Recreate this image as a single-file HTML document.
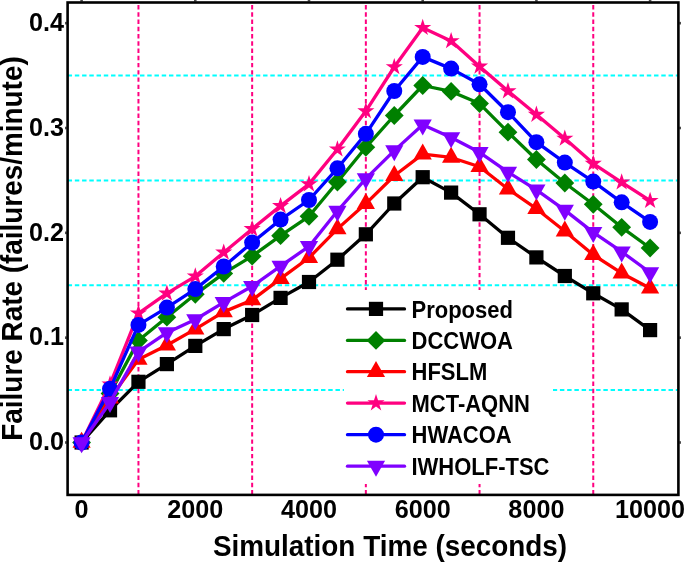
<!DOCTYPE html><html><head><meta charset="utf-8"><style>html,body{margin:0;padding:0;background:#fff;width:685px;height:563px;overflow:hidden}svg{display:block;will-change:transform}text{font-family:"Liberation Sans",sans-serif;font-weight:bold;fill:#000}</style></head><body>
<svg width="685" height="563" viewBox="0 0 685 563">
<rect width="685" height="563" fill="#fff"/>
<line x1="67.6" y1="390.08" x2="678.4" y2="390.08" stroke="#00ffff" stroke-width="2" stroke-dasharray="4.45 2.79"/>
<line x1="67.6" y1="285.25" x2="678.4" y2="285.25" stroke="#00ffff" stroke-width="2" stroke-dasharray="4.45 2.79"/>
<line x1="67.6" y1="180.43" x2="678.4" y2="180.43" stroke="#00ffff" stroke-width="2" stroke-dasharray="4.45 2.79"/>
<line x1="67.6" y1="75.60" x2="678.4" y2="75.60" stroke="#00ffff" stroke-width="2" stroke-dasharray="4.45 2.79"/>
<line x1="138.45" y1="2.5" x2="138.45" y2="494.9" stroke="#ff0080" stroke-width="2" stroke-dasharray="4.45 2.79" stroke-dashoffset="4.74"/>
<line x1="252.15" y1="2.5" x2="252.15" y2="494.9" stroke="#ff0080" stroke-width="2" stroke-dasharray="4.45 2.79" stroke-dashoffset="4.74"/>
<line x1="365.85" y1="2.5" x2="365.85" y2="494.9" stroke="#ff0080" stroke-width="2" stroke-dasharray="4.45 2.79" stroke-dashoffset="4.74"/>
<line x1="479.55" y1="2.5" x2="479.55" y2="494.9" stroke="#ff0080" stroke-width="2" stroke-dasharray="4.45 2.79" stroke-dashoffset="4.74"/>
<line x1="593.25" y1="2.5" x2="593.25" y2="494.9" stroke="#ff0080" stroke-width="2" stroke-dasharray="4.45 2.79" stroke-dashoffset="4.74"/>
<polyline points="81.60,442.50 110.02,410.30 138.45,381.80 166.88,364.10 195.30,345.90 223.72,329.10 252.15,315.00 280.57,297.90 309.00,282.00 337.42,259.70 365.85,234.30 394.27,203.50 422.70,177.20 451.12,192.60 479.55,214.30 507.98,237.80 536.40,257.40 564.82,276.00 593.25,293.30 621.67,309.40 650.10,330.10" fill="none" stroke="#000000" stroke-width="3.3" stroke-linejoin="round" stroke-linecap="round"/>
<rect x="74.50" y="435.40" width="14.2" height="14.2" fill="#000000"/>
<rect x="102.92" y="403.20" width="14.2" height="14.2" fill="#000000"/>
<rect x="131.35" y="374.70" width="14.2" height="14.2" fill="#000000"/>
<rect x="159.78" y="357.00" width="14.2" height="14.2" fill="#000000"/>
<rect x="188.20" y="338.80" width="14.2" height="14.2" fill="#000000"/>
<rect x="216.62" y="322.00" width="14.2" height="14.2" fill="#000000"/>
<rect x="245.05" y="307.90" width="14.2" height="14.2" fill="#000000"/>
<rect x="273.47" y="290.80" width="14.2" height="14.2" fill="#000000"/>
<rect x="301.90" y="274.90" width="14.2" height="14.2" fill="#000000"/>
<rect x="330.32" y="252.60" width="14.2" height="14.2" fill="#000000"/>
<rect x="358.75" y="227.20" width="14.2" height="14.2" fill="#000000"/>
<rect x="387.17" y="196.40" width="14.2" height="14.2" fill="#000000"/>
<rect x="415.60" y="170.10" width="14.2" height="14.2" fill="#000000"/>
<rect x="444.02" y="185.50" width="14.2" height="14.2" fill="#000000"/>
<rect x="472.45" y="207.20" width="14.2" height="14.2" fill="#000000"/>
<rect x="500.88" y="230.70" width="14.2" height="14.2" fill="#000000"/>
<rect x="529.30" y="250.30" width="14.2" height="14.2" fill="#000000"/>
<rect x="557.72" y="268.90" width="14.2" height="14.2" fill="#000000"/>
<rect x="586.15" y="286.20" width="14.2" height="14.2" fill="#000000"/>
<rect x="614.57" y="302.30" width="14.2" height="14.2" fill="#000000"/>
<rect x="643.00" y="323.00" width="14.2" height="14.2" fill="#000000"/>
<polyline points="81.60,442.50 110.02,393.50 138.45,340.60 166.88,317.20 195.30,294.30 223.72,273.40 252.15,256.20 280.57,235.70 309.00,216.30 337.42,182.00 365.85,147.30 394.27,115.50 422.70,85.50 451.12,91.40 479.55,103.60 507.98,132.20 536.40,159.50 564.82,183.00 593.25,204.30 621.67,227.30 650.10,248.00" fill="none" stroke="#008000" stroke-width="3.3" stroke-linejoin="round" stroke-linecap="round"/>
<path d="M81.60 433.10L91.00 442.50L81.60 451.90L72.20 442.50Z" fill="#008000"/>
<path d="M110.02 384.10L119.42 393.50L110.02 402.90L100.62 393.50Z" fill="#008000"/>
<path d="M138.45 331.20L147.85 340.60L138.45 350.00L129.05 340.60Z" fill="#008000"/>
<path d="M166.88 307.80L176.28 317.20L166.88 326.60L157.47 317.20Z" fill="#008000"/>
<path d="M195.30 284.90L204.70 294.30L195.30 303.70L185.90 294.30Z" fill="#008000"/>
<path d="M223.72 264.00L233.12 273.40L223.72 282.80L214.32 273.40Z" fill="#008000"/>
<path d="M252.15 246.80L261.55 256.20L252.15 265.60L242.75 256.20Z" fill="#008000"/>
<path d="M280.57 226.30L289.97 235.70L280.57 245.10L271.18 235.70Z" fill="#008000"/>
<path d="M309.00 206.90L318.40 216.30L309.00 225.70L299.60 216.30Z" fill="#008000"/>
<path d="M337.42 172.60L346.82 182.00L337.42 191.40L328.02 182.00Z" fill="#008000"/>
<path d="M365.85 137.90L375.25 147.30L365.85 156.70L356.45 147.30Z" fill="#008000"/>
<path d="M394.27 106.10L403.67 115.50L394.27 124.90L384.88 115.50Z" fill="#008000"/>
<path d="M422.70 76.10L432.10 85.50L422.70 94.90L413.30 85.50Z" fill="#008000"/>
<path d="M451.12 82.00L460.52 91.40L451.12 100.80L441.73 91.40Z" fill="#008000"/>
<path d="M479.55 94.20L488.95 103.60L479.55 113.00L470.15 103.60Z" fill="#008000"/>
<path d="M507.98 122.80L517.38 132.20L507.98 141.60L498.58 132.20Z" fill="#008000"/>
<path d="M536.40 150.10L545.80 159.50L536.40 168.90L527.00 159.50Z" fill="#008000"/>
<path d="M564.82 173.60L574.22 183.00L564.82 192.40L555.42 183.00Z" fill="#008000"/>
<path d="M593.25 194.90L602.65 204.30L593.25 213.70L583.85 204.30Z" fill="#008000"/>
<path d="M621.67 217.90L631.07 227.30L621.67 236.70L612.27 227.30Z" fill="#008000"/>
<path d="M650.10 238.60L659.50 248.00L650.10 257.40L640.70 248.00Z" fill="#008000"/>
<polyline points="81.60,442.47 110.02,398.17 138.45,359.47 166.88,345.27 195.30,329.17 223.72,311.87 252.15,299.97 280.57,278.67 309.00,257.77 337.42,228.87 365.85,203.57 394.27,175.77 422.70,154.07 451.12,157.47 479.55,166.77 507.98,189.07 536.40,208.67 564.82,231.27 593.25,254.77 621.67,273.17 650.10,288.17" fill="none" stroke="#ff0000" stroke-width="3.3" stroke-linejoin="round" stroke-linecap="round"/>
<path d="M81.60 431.80L90.70 447.80L72.50 447.80Z" fill="#ff0000"/>
<path d="M110.02 387.50L119.12 403.50L100.92 403.50Z" fill="#ff0000"/>
<path d="M138.45 348.80L147.55 364.80L129.35 364.80Z" fill="#ff0000"/>
<path d="M166.88 334.60L175.97 350.60L157.78 350.60Z" fill="#ff0000"/>
<path d="M195.30 318.50L204.40 334.50L186.20 334.50Z" fill="#ff0000"/>
<path d="M223.72 301.20L232.82 317.20L214.62 317.20Z" fill="#ff0000"/>
<path d="M252.15 289.30L261.25 305.30L243.05 305.30Z" fill="#ff0000"/>
<path d="M280.57 268.00L289.68 284.00L271.47 284.00Z" fill="#ff0000"/>
<path d="M309.00 247.10L318.10 263.10L299.90 263.10Z" fill="#ff0000"/>
<path d="M337.42 218.20L346.52 234.20L328.32 234.20Z" fill="#ff0000"/>
<path d="M365.85 192.90L374.95 208.90L356.75 208.90Z" fill="#ff0000"/>
<path d="M394.27 165.10L403.38 181.10L385.17 181.10Z" fill="#ff0000"/>
<path d="M422.70 143.40L431.80 159.40L413.60 159.40Z" fill="#ff0000"/>
<path d="M451.12 146.80L460.23 162.80L442.02 162.80Z" fill="#ff0000"/>
<path d="M479.55 156.10L488.65 172.10L470.45 172.10Z" fill="#ff0000"/>
<path d="M507.98 178.40L517.08 194.40L498.88 194.40Z" fill="#ff0000"/>
<path d="M536.40 198.00L545.50 214.00L527.30 214.00Z" fill="#ff0000"/>
<path d="M564.82 220.60L573.92 236.60L555.72 236.60Z" fill="#ff0000"/>
<path d="M593.25 244.10L602.35 260.10L584.15 260.10Z" fill="#ff0000"/>
<path d="M621.67 262.50L630.77 278.50L612.57 278.50Z" fill="#ff0000"/>
<path d="M650.10 277.50L659.20 293.50L641.00 293.50Z" fill="#ff0000"/>
<polyline points="81.60,442.50 110.02,384.30 138.45,313.30 166.88,293.40 195.30,276.30 223.72,252.40 252.15,228.90 280.57,205.90 309.00,184.10 337.42,149.20 365.85,111.10 394.27,67.00 422.70,27.70 451.12,41.00 479.55,66.40 507.98,91.10 536.40,114.60 564.82,138.50 593.25,163.60 621.67,182.30 650.10,200.70" fill="none" stroke="#ff0080" stroke-width="3.3" stroke-linejoin="round" stroke-linecap="round"/>
<path d="M81.60 433.50L83.62 439.72L90.16 439.72L84.87 443.56L86.89 449.78L81.60 445.94L76.31 449.78L78.33 443.56L73.04 439.72L79.58 439.72Z" fill="#ff0080"/>
<path d="M110.02 375.30L112.05 381.52L118.58 381.52L113.29 385.36L115.32 391.58L110.02 387.74L104.73 391.58L106.76 385.36L101.47 381.52L108.00 381.52Z" fill="#ff0080"/>
<path d="M138.45 304.30L140.47 310.52L147.01 310.52L141.72 314.36L143.74 320.58L138.45 316.74L133.16 320.58L135.18 314.36L129.89 310.52L136.43 310.52Z" fill="#ff0080"/>
<path d="M166.88 284.40L168.90 290.62L175.43 290.62L170.14 294.46L172.17 300.68L166.88 296.84L161.58 300.68L163.61 294.46L158.32 290.62L164.85 290.62Z" fill="#ff0080"/>
<path d="M195.30 267.30L197.32 273.52L203.86 273.52L198.57 277.36L200.59 283.58L195.30 279.74L190.01 283.58L192.03 277.36L186.74 273.52L193.28 273.52Z" fill="#ff0080"/>
<path d="M223.72 243.40L225.75 249.62L232.28 249.62L226.99 253.46L229.02 259.68L223.72 255.84L218.43 259.68L220.46 253.46L215.17 249.62L221.70 249.62Z" fill="#ff0080"/>
<path d="M252.15 219.90L254.17 226.12L260.71 226.12L255.42 229.96L257.44 236.18L252.15 232.34L246.86 236.18L248.88 229.96L243.59 226.12L250.13 226.12Z" fill="#ff0080"/>
<path d="M280.57 196.90L282.60 203.12L289.13 203.12L283.84 206.96L285.87 213.18L280.57 209.34L275.28 213.18L277.31 206.96L272.02 203.12L278.55 203.12Z" fill="#ff0080"/>
<path d="M309.00 175.10L311.02 181.32L317.56 181.32L312.27 185.16L314.29 191.38L309.00 187.54L303.71 191.38L305.73 185.16L300.44 181.32L306.98 181.32Z" fill="#ff0080"/>
<path d="M337.42 140.20L339.45 146.42L345.98 146.42L340.69 150.26L342.72 156.48L337.42 152.64L332.13 156.48L334.16 150.26L328.87 146.42L335.40 146.42Z" fill="#ff0080"/>
<path d="M365.85 102.10L367.87 108.32L374.41 108.32L369.12 112.16L371.14 118.38L365.85 114.54L360.56 118.38L362.58 112.16L357.29 108.32L363.83 108.32Z" fill="#ff0080"/>
<path d="M394.27 58.00L396.30 64.22L402.83 64.22L397.54 68.06L399.57 74.28L394.27 70.44L388.98 74.28L391.01 68.06L385.72 64.22L392.25 64.22Z" fill="#ff0080"/>
<path d="M422.70 18.70L424.72 24.92L431.26 24.92L425.97 28.76L427.99 34.98L422.70 31.14L417.41 34.98L419.43 28.76L414.14 24.92L420.68 24.92Z" fill="#ff0080"/>
<path d="M451.12 32.00L453.15 38.22L459.68 38.22L454.39 42.06L456.42 48.28L451.12 44.44L445.83 48.28L447.86 42.06L442.57 38.22L449.10 38.22Z" fill="#ff0080"/>
<path d="M479.55 57.40L481.57 63.62L488.11 63.62L482.82 67.46L484.84 73.68L479.55 69.84L474.26 73.68L476.28 67.46L470.99 63.62L477.53 63.62Z" fill="#ff0080"/>
<path d="M507.98 82.10L510.00 88.32L516.53 88.32L511.24 92.16L513.27 98.38L507.98 94.54L502.68 98.38L504.71 92.16L499.42 88.32L505.95 88.32Z" fill="#ff0080"/>
<path d="M536.40 105.60L538.42 111.82L544.96 111.82L539.67 115.66L541.69 121.88L536.40 118.04L531.11 121.88L533.13 115.66L527.84 111.82L534.38 111.82Z" fill="#ff0080"/>
<path d="M564.82 129.50L566.85 135.72L573.38 135.72L568.09 139.56L570.12 145.78L564.82 141.94L559.53 145.78L561.56 139.56L556.27 135.72L562.80 135.72Z" fill="#ff0080"/>
<path d="M593.25 154.60L595.27 160.82L601.81 160.82L596.52 164.66L598.54 170.88L593.25 167.04L587.96 170.88L589.98 164.66L584.69 160.82L591.23 160.82Z" fill="#ff0080"/>
<path d="M621.67 173.30L623.70 179.52L630.23 179.52L624.94 183.36L626.97 189.58L621.67 185.74L616.38 189.58L618.41 183.36L613.12 179.52L619.65 179.52Z" fill="#ff0080"/>
<path d="M650.10 191.70L652.12 197.92L658.66 197.92L653.37 201.76L655.39 207.98L650.10 204.14L644.81 207.98L646.83 201.76L641.54 197.92L648.08 197.92Z" fill="#ff0080"/>
<polyline points="81.60,442.50 110.02,388.80 138.45,324.90 166.88,307.60 195.30,289.10 223.72,266.50 252.15,242.60 280.57,219.60 309.00,200.00 337.42,168.30 365.85,133.80 394.27,91.00 422.70,56.90 451.12,68.60 479.55,84.30 507.98,112.20 536.40,142.20 564.82,162.60 593.25,181.60 621.67,202.30 650.10,221.90" fill="none" stroke="#0000ff" stroke-width="3.3" stroke-linejoin="round" stroke-linecap="round"/>
<circle cx="81.60" cy="442.50" r="8.0" fill="#0000ff"/>
<circle cx="110.02" cy="388.80" r="8.0" fill="#0000ff"/>
<circle cx="138.45" cy="324.90" r="8.0" fill="#0000ff"/>
<circle cx="166.88" cy="307.60" r="8.0" fill="#0000ff"/>
<circle cx="195.30" cy="289.10" r="8.0" fill="#0000ff"/>
<circle cx="223.72" cy="266.50" r="8.0" fill="#0000ff"/>
<circle cx="252.15" cy="242.60" r="8.0" fill="#0000ff"/>
<circle cx="280.57" cy="219.60" r="8.0" fill="#0000ff"/>
<circle cx="309.00" cy="200.00" r="8.0" fill="#0000ff"/>
<circle cx="337.42" cy="168.30" r="8.0" fill="#0000ff"/>
<circle cx="365.85" cy="133.80" r="8.0" fill="#0000ff"/>
<circle cx="394.27" cy="91.00" r="8.0" fill="#0000ff"/>
<circle cx="422.70" cy="56.90" r="8.0" fill="#0000ff"/>
<circle cx="451.12" cy="68.60" r="8.0" fill="#0000ff"/>
<circle cx="479.55" cy="84.30" r="8.0" fill="#0000ff"/>
<circle cx="507.98" cy="112.20" r="8.0" fill="#0000ff"/>
<circle cx="536.40" cy="142.20" r="8.0" fill="#0000ff"/>
<circle cx="564.82" cy="162.60" r="8.0" fill="#0000ff"/>
<circle cx="593.25" cy="181.60" r="8.0" fill="#0000ff"/>
<circle cx="621.67" cy="202.30" r="8.0" fill="#0000ff"/>
<circle cx="650.10" cy="221.90" r="8.0" fill="#0000ff"/>
<polyline points="81.60,442.53 110.02,402.43 138.45,351.93 166.88,332.63 195.30,319.53 223.72,302.33 252.15,286.23 280.57,266.13 309.00,246.43 337.42,211.03 365.85,178.63 394.27,150.63 422.70,124.83 451.12,137.53 479.55,152.33 507.98,172.03 536.40,189.83 564.82,210.13 593.25,232.33 621.67,251.73 650.10,272.53" fill="none" stroke="#8000ff" stroke-width="3.3" stroke-linejoin="round" stroke-linecap="round"/>
<path d="M81.60 453.20L90.70 437.20L72.50 437.20Z" fill="#8000ff"/>
<path d="M110.02 413.10L119.12 397.10L100.92 397.10Z" fill="#8000ff"/>
<path d="M138.45 362.60L147.55 346.60L129.35 346.60Z" fill="#8000ff"/>
<path d="M166.88 343.30L175.97 327.30L157.78 327.30Z" fill="#8000ff"/>
<path d="M195.30 330.20L204.40 314.20L186.20 314.20Z" fill="#8000ff"/>
<path d="M223.72 313.00L232.82 297.00L214.62 297.00Z" fill="#8000ff"/>
<path d="M252.15 296.90L261.25 280.90L243.05 280.90Z" fill="#8000ff"/>
<path d="M280.57 276.80L289.68 260.80L271.47 260.80Z" fill="#8000ff"/>
<path d="M309.00 257.10L318.10 241.10L299.90 241.10Z" fill="#8000ff"/>
<path d="M337.42 221.70L346.52 205.70L328.32 205.70Z" fill="#8000ff"/>
<path d="M365.85 189.30L374.95 173.30L356.75 173.30Z" fill="#8000ff"/>
<path d="M394.27 161.30L403.38 145.30L385.17 145.30Z" fill="#8000ff"/>
<path d="M422.70 135.50L431.80 119.50L413.60 119.50Z" fill="#8000ff"/>
<path d="M451.12 148.20L460.23 132.20L442.02 132.20Z" fill="#8000ff"/>
<path d="M479.55 163.00L488.65 147.00L470.45 147.00Z" fill="#8000ff"/>
<path d="M507.98 182.70L517.08 166.70L498.88 166.70Z" fill="#8000ff"/>
<path d="M536.40 200.50L545.50 184.50L527.30 184.50Z" fill="#8000ff"/>
<path d="M564.82 220.80L573.92 204.80L555.72 204.80Z" fill="#8000ff"/>
<path d="M593.25 243.00L602.35 227.00L584.15 227.00Z" fill="#8000ff"/>
<path d="M621.67 262.40L630.77 246.40L612.57 246.40Z" fill="#8000ff"/>
<path d="M650.10 283.20L659.20 267.20L641.00 267.20Z" fill="#8000ff"/>
<rect x="344" y="290" width="209" height="194" fill="#fff"/>
<line x1="347.5" y1="308.9" x2="404.5" y2="308.9" stroke="#000000" stroke-width="3.3" stroke-linecap="round"/>
<rect x="368.90" y="301.80" width="14.2" height="14.2" fill="#000000"/>
<text transform="translate(411.5,317.55) scale(1,1.06)" font-size="22">Proposed</text>
<line x1="347.5" y1="340.4" x2="404.5" y2="340.4" stroke="#008000" stroke-width="3.3" stroke-linecap="round"/>
<path d="M376.00 331.00L385.40 340.40L376.00 349.80L366.60 340.40Z" fill="#008000"/>
<text transform="translate(411.5,349.05) scale(1,1.06)" font-size="22">DCCWOA</text>
<line x1="347.5" y1="371.7" x2="404.5" y2="371.7" stroke="#ff0000" stroke-width="3.3" stroke-linecap="round"/>
<path d="M376.00 361.03L385.10 377.03L366.90 377.03Z" fill="#ff0000"/>
<text transform="translate(411.5,380.35) scale(1,1.06)" font-size="22">HFSLM</text>
<line x1="347.5" y1="403.1" x2="404.5" y2="403.1" stroke="#ff0080" stroke-width="3.3" stroke-linecap="round"/>
<path d="M376.00 394.10L378.02 400.32L384.56 400.32L379.27 404.16L381.29 410.38L376.00 406.54L370.71 410.38L372.73 404.16L367.44 400.32L373.98 400.32Z" fill="#ff0080"/>
<text transform="translate(411.5,411.75) scale(1,1.06)" font-size="22">MCT-AQNN</text>
<line x1="347.5" y1="434.7" x2="404.5" y2="434.7" stroke="#0000ff" stroke-width="3.3" stroke-linecap="round"/>
<circle cx="376.00" cy="434.70" r="8.0" fill="#0000ff"/>
<text transform="translate(411.5,443.35) scale(1,1.06)" font-size="22">HWACOA</text>
<line x1="347.5" y1="466.2" x2="404.5" y2="466.2" stroke="#8000ff" stroke-width="3.3" stroke-linecap="round"/>
<path d="M376.00 476.87L385.10 460.87L366.90 460.87Z" fill="#8000ff"/>
<text transform="translate(411.5,474.85) scale(1,1.06)" font-size="22">IWHOLF-TSC</text>
<rect x="67.6" y="2.5" width="610.8" height="492.4" fill="none" stroke="#000" stroke-width="2.6"/>
<rect x="65.30" y="441.20" width="1.2" height="2.6" fill="#000"/>
<rect x="679.50" y="441.20" width="1.2" height="2.6" fill="#000"/>
<rect x="65.30" y="336.37" width="1.2" height="2.6" fill="#000"/>
<rect x="679.50" y="336.37" width="1.2" height="2.6" fill="#000"/>
<rect x="65.30" y="231.54" width="1.2" height="2.6" fill="#000"/>
<rect x="679.50" y="231.54" width="1.2" height="2.6" fill="#000"/>
<rect x="65.30" y="126.71" width="1.2" height="2.6" fill="#000"/>
<rect x="679.50" y="126.71" width="1.2" height="2.6" fill="#000"/>
<rect x="65.30" y="21.88" width="1.2" height="2.6" fill="#000"/>
<rect x="679.50" y="21.88" width="1.2" height="2.6" fill="#000"/>
<rect x="80.30" y="0.30" width="2.6" height="1.1" fill="#000"/>
<rect x="194.00" y="0.30" width="2.6" height="1.1" fill="#000"/>
<rect x="307.70" y="0.30" width="2.6" height="1.1" fill="#000"/>
<rect x="421.40" y="0.30" width="2.6" height="1.1" fill="#000"/>
<rect x="535.10" y="0.30" width="2.6" height="1.1" fill="#000"/>
<rect x="648.80" y="0.30" width="2.6" height="1.1" fill="#000"/>
<text transform="translate(64.0,450.20) scale(1,1.05)" font-size="25.2" text-anchor="end">0.0</text>
<text transform="translate(64.0,345.37) scale(1,1.05)" font-size="25.2" text-anchor="end">0.1</text>
<text transform="translate(64.0,240.54) scale(1,1.05)" font-size="25.2" text-anchor="end">0.2</text>
<text transform="translate(64.0,135.71) scale(1,1.05)" font-size="25.2" text-anchor="end">0.3</text>
<text transform="translate(64.0,30.88) scale(1,1.05)" font-size="25.2" text-anchor="end">0.4</text>
<text transform="translate(81.60,517.8) scale(1,1.05)" font-size="25.2" text-anchor="middle">0</text>
<text transform="translate(195.30,517.8) scale(1,1.05)" font-size="25.2" text-anchor="middle">2000</text>
<text transform="translate(309.00,517.8) scale(1,1.05)" font-size="25.2" text-anchor="middle">4000</text>
<text transform="translate(422.70,517.8) scale(1,1.05)" font-size="25.2" text-anchor="middle">6000</text>
<text transform="translate(536.40,517.8) scale(1,1.05)" font-size="25.2" text-anchor="middle">8000</text>
<text transform="translate(650.10,517.8) scale(1,1.05)" font-size="25.2" text-anchor="middle">10000</text>
<text transform="translate(390,556.3) scale(1,1.055)" font-size="27.9" text-anchor="middle">Simulation Time (seconds)</text>
<text transform="translate(21.5,248.5) rotate(-90) scale(1,1.065)" x="0" y="0" font-size="27.9" text-anchor="middle">Failure Rate (failures/minute)</text>
</svg></body></html>
